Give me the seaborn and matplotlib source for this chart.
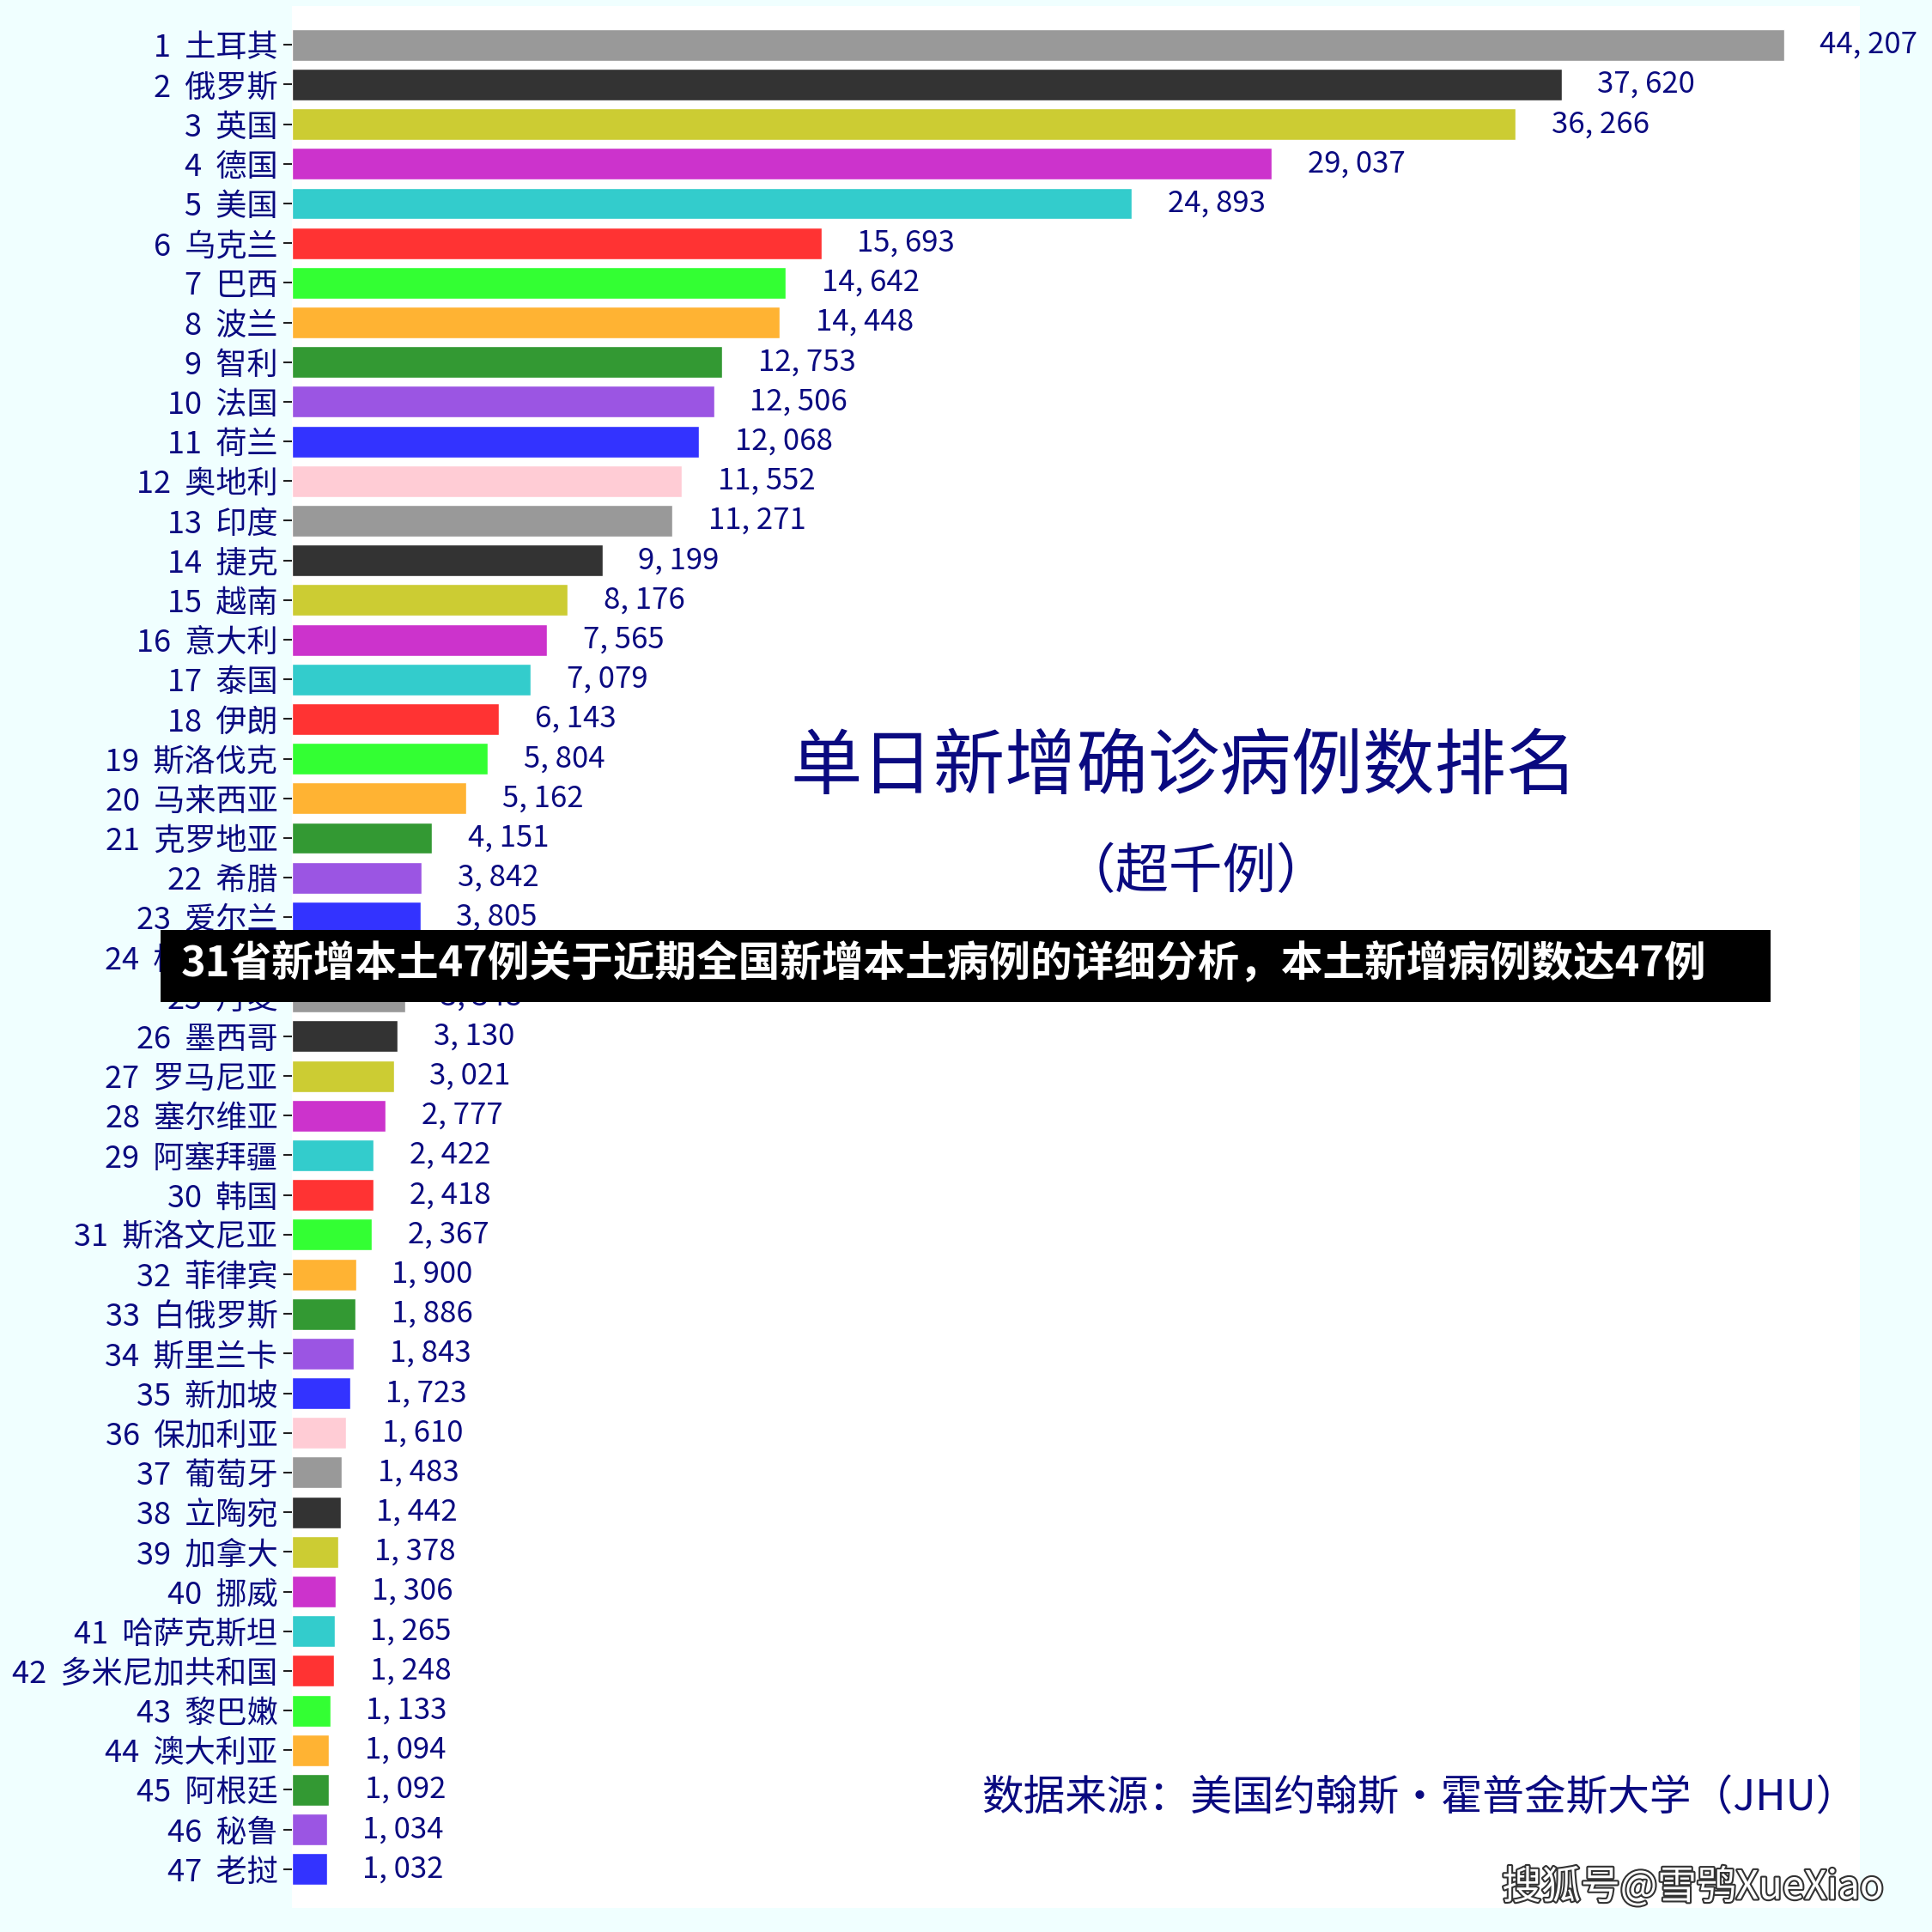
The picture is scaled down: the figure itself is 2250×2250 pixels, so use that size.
import matplotlib
matplotlib.use('Agg')
import matplotlib.pyplot as plt
import matplotlib.patches as patches
import matplotlib.patheffects as pe
import seaborn as sns
import pandas as pd

# data: daily new confirmed cases, countries with more than 1000
countries = ['土耳其', '俄罗斯', '英国', '德国', '美国', '乌克兰', '巴西', '波兰', '智利', '法国',
             '荷兰', '奥地利', '印度', '捷克', '越南', '意大利', '泰国', '伊朗', '斯洛伐克', '马来西亚',
             '克罗地亚', '希腊', '爱尔兰', '格鲁吉亚', '丹麦', '墨西哥', '罗马尼亚', '塞尔维亚', '阿塞拜疆', '韩国',
             '斯洛文尼亚', '菲律宾', '白俄罗斯', '斯里兰卡', '新加坡', '保加利亚', '葡萄牙', '立陶宛', '加拿大', '挪威',
             '哈萨克斯坦', '多米尼加共和国', '黎巴嫩', '澳大利亚', '阿根廷', '秘鲁', '老挝']
cases = [44207, 37620, 36266, 29037, 24893, 15693, 14642, 14448, 12753, 12506,
         12068, 11552, 11271, 9199, 8176, 7565, 7079, 6143, 5804, 5162,
         4151, 3842, 3805, 3600, 3348, 3130, 3021, 2777, 2422, 2418,
         2367, 1900, 1886, 1843, 1723, 1610, 1483, 1442, 1378, 1306,
         1265, 1248, 1133, 1094, 1092, 1034, 1032]
cycle_colors = ['#999999', '#333333', '#CCCC33', '#CC33CC', '#33CCCC', '#FF3333',
                '#33FF33', '#FFB333', '#339933', '#9B55E3', '#3333FF', '#FFCCD5']

title = '单日新增确诊病例数排名'
subtitle = '（超千例）'
date_line = '报告日期：2021-11-18'
banner = '31省新增本土47例关于近期全国新增本土病例的详细分析，本土新增病例数达47例'
source = '数据来源：美国约翰斯·霍普金斯大学（JHU）'
watermark = '搜狐号@雪鸮XueXiao'

navy = '#0A0A80'

sns.set_style('white')
plt.rcParams['font.family'] = ['Noto Sans CJK SC', 'DejaVu Sans']

labels = ['{0}  {1}'.format(i + 1, c) for i, c in enumerate(countries)]
colors = [cycle_colors[i % len(cycle_colors)] for i in range(len(countries))]
df = pd.DataFrame({'label': labels, 'cases': cases})

fig = plt.figure(figsize=(22.5, 22.5), dpi=100, facecolor='#F0FFFF')
ax = fig.add_axes([0.1511, 0.0124, 0.8116, 0.9845])
ax.set_facecolor('white')

sns.barplot(data=df, x='cases', y='label', hue='label', palette=colors, legend=False,
            orient='h', width=0.8, saturation=1, ax=ax)

for i, v in enumerate(cases):
    ax.annotate('{:,}'.format(v).replace(',', ', '), xy=(v, i), xytext=(30, 0),
                textcoords='offset points', va='center', ha='left',
                fontsize=25, color=navy, annotation_clip=False)

ax.set_xlim(0, 46460)
ax.set_ylim(46.98, -0.98)
ax.set_xlabel('')
ax.set_ylabel('')
ax.set_xticks([])
ax.tick_params(axis='y', left=True, length=7, width=1.5, color='#222222',
               labelsize=26, labelcolor=navy, pad=5)
for s in ax.spines.values():
    s.set_visible(False)

# annotations on the right side
fig.text(0.613, 0.603, title, fontsize=60, color=navy, ha='center', va='center')
fig.text(0.619, 0.5484, subtitle, fontsize=45, color=navy, ha='center', va='center')
fig.text(0.622, 0.505, date_line, fontsize=33, color=navy, ha='center', va='center', zorder=1)
fig.text(0.735, 0.069, source, fontsize=35, color=navy, ha='center', va='center')
fig.text(0.975, 0.023, watermark, fontsize=33, color='white', ha='right', va='center',
         path_effects=[pe.withStroke(linewidth=3, foreground='#333333')])

# black headline banner over the chart
fig.patches.append(patches.Rectangle((0.0831, 0.4813), 0.8333, 0.0373, transform=fig.transFigure,
                                     facecolor='black', edgecolor='none', zorder=5))
fig.text(0.0938, 0.5013, banner, fontsize=35, fontweight='bold', color='white',
         ha='left', va='center', zorder=6)

fig.savefig('out.png', dpi=100, facecolor=fig.get_facecolor())
